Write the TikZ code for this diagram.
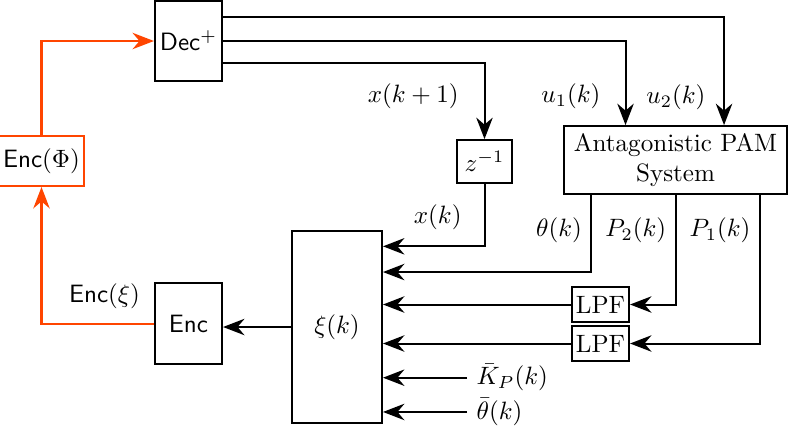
\documentclass[tikz,border=0pt]{standalone}
\usepackage{amsmath,amssymb}
\usepackage{xcolor}
\usetikzlibrary{arrows.meta,positioning,calc}
\definecolor{encorange}{HTML}{FF4500}

\begin{document}
\begin{tikzpicture}[
  x=0.014cm, y=-0.014cm,
  thick,
  blk/.style={draw, thick, align=center, inner sep=2pt},
  lpf/.style={blk, minimum width=0.8cm, minimum height=0.49cm, inner sep=1pt},
  ref/.style={anchor=west, inner ysep=0.5pt},
  arr/.style={-{Stealth[length=3mm, width=2.3mm]}, thick},
  oarr/.style={arr, encorange},
]
\useasboundingbox (0,0) rectangle (788,429);

% blocks
\node[blk, minimum width=0.94cm, minimum height=1.12cm] (dec) at (188.5,41) {\textsf{Dec}$^{+}$};
\node[blk, draw=encorange, minimum width=1.16cm, minimum height=0.7cm, inner xsep=1.5pt] (encphi) at (41.5,161) {\textsf{Enc}$(\Phi)$};
\node[blk, minimum width=0.94cm, minimum height=1.13cm] (enc) at (188.5,323.5) {\textsf{Enc}};
\node[blk, minimum width=1.26cm, minimum height=2.69cm] (xi) at (337,327) {$\xi(k)$};
\node[blk, minimum width=0.77cm, minimum height=0.6cm] (zinv) at (484.5,161.5) {$z^{-1}$};
\node[blk, minimum width=3.12cm, minimum height=0.95cm] (pam) at (675.5,160) {Antagonistic PAM\\System};
\node[lpf] (lpf1) at (600.5,304.5) {LPF};
\node[lpf] (lpf2) at (600.5,343.5) {LPF};

% decoder outputs
\draw[arr] ([yshift=0.336cm]dec.east) -| node[left=1.3mm, pos=0.87]{$u_2(k)$} ([xshift=0.68cm]pam.north);
\draw[arr] (dec.east) -| node[left=2.2mm, pos=0.83]{$u_1(k)$} ([xshift=-0.7cm]pam.north);
\draw[arr] ([yshift=-0.308cm]dec.east) -| node[left=2.3mm, pos=0.72]{$x(k+1)$} (zinv.north);

% measurements into xi
\draw[arr] (zinv.south) |- node[left=1.9mm, pos=0.27]{$x(k)$} ([yshift=1.13cm]xi.east);
\draw[arr] ([xshift=-1.18cm]pam.south) |- node[left, pos=0.23]{$\theta(k)$} ([yshift=0.77cm]xi.east);
\draw[arr] (pam.south) |- node[left, pos=0.16]{$P_2(k)$} (lpf1.east);
\draw[arr] ([xshift=1.18cm]pam.south) |- node[left, pos=0.12]{$P_1(k)$} (lpf2.east);
\draw[arr] (lpf1.west) -- (lpf1.west -| xi.east);
\draw[arr] (lpf2.west) -- (lpf2.west -| xi.east);

% references
\node[ref] (kp) at ([shift={(1.18cm,-0.71cm)}]xi.east) {$\bar{K}_P(k)$};
\node[ref] (thref) at ([shift={(1.18cm,-1.19cm)}]xi.east) {$\bar{\theta}(k)$};
\draw[arr] (kp.west) -- (kp.west -| xi.east);
\draw[arr] (thref.west) -- (thref.west -| xi.east);

% encoder loop
\draw[arr] (xi.west) -- (enc.east |- xi.west);
\draw[oarr] (enc.west) -| node[above=0.8mm, pos=0.22, text=black]{\textsf{Enc}$(\xi)$} (encphi.south);
\draw[oarr] (encphi.north) |- (dec.west);
\end{tikzpicture}
\end{document}
